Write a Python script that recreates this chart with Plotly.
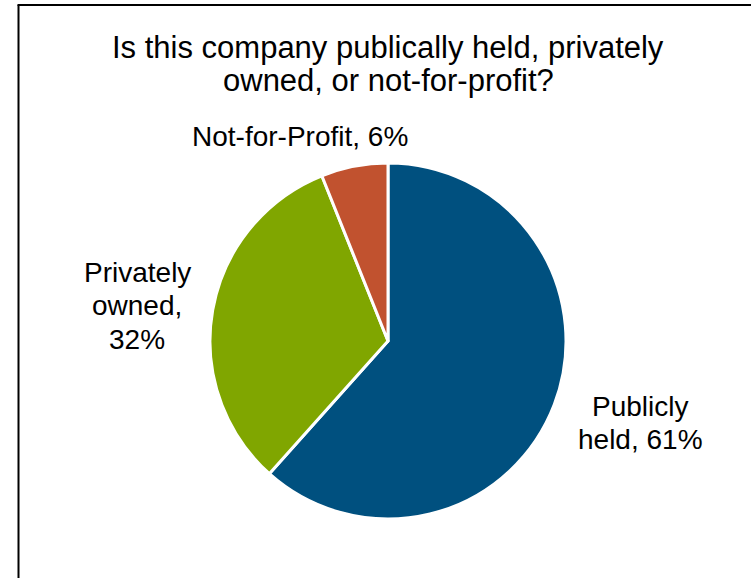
import plotly.graph_objects as go

# data
labels = ['Publicly held', 'Privately owned', 'Not-for-Profit']
values = [61, 32, 6]
colors = ['#00507F', '#80A600', '#C1522F']

title_lines = ['Is this company publically held, privately', 'owned, or not-for-profit?']

# label lines as laid out on the original chart
label_lines = [
    ['Publicly', 'held, {}%'],
    ['Privately', 'owned,', '{}%'],
    ['Not-for-Profit, {}%'],
]
label_pos = [(640, 406), (137, 272), (300, 137)]  # pixel centre of first line
line_step = 33.5

W, H = 751, 578
cx, cy, r = 388, 341, 178

fig = go.Figure()
fig.add_trace(go.Pie(
    labels=labels,
    values=values,
    sort=False,
    direction='clockwise',
    rotation=0,
    textinfo='none',
    hoverinfo='label+percent',
    marker=dict(colors=colors, line=dict(color='white', width=3)),
    domain=dict(x=[(cx - r) / W, (cx + r) / W], y=[(H - cy - r) / H, (H - cy + r) / H]),
    showlegend=False,
))

for lines, v, (px_, py_) in zip(label_lines, values, label_pos):
    for i, ln in enumerate(lines):
        fig.add_annotation(
            text=ln.format(v), x=px_ / W, y=1 - (py_ + i * line_step) / H,
            xref='paper', yref='paper', xanchor='center', yanchor='middle',
            showarrow=False, font=dict(size=28, color='black'),
        )

# title, one annotation per line to keep the tight line spacing
for i, ln in enumerate(title_lines):
    fig.add_annotation(
        text=ln, x=388 / W, y=1 - (47 + i * 33) / H,
        xref='paper', yref='paper', xanchor='center', yanchor='middle',
        showarrow=False, font=dict(size=31, color='black'),
    )

fig.update_layout(
    width=W, height=H,
    margin=dict(l=0, r=0, t=0, b=0),
    paper_bgcolor='white',
    font=dict(family='Liberation Sans, Arial', color='black'),
    shapes=[
        # frame border (left and top edges visible)
        dict(type='line', xref='paper', yref='paper', x0=18.5 / W, x1=18.5 / W,
             y0=-0.1, y1=1 - 5 / H, line=dict(color='black', width=2)),
        dict(type='line', xref='paper', yref='paper', x0=17.5 / W, x1=1.1,
             y0=1 - 5 / H, y1=1 - 5 / H, line=dict(color='black', width=2)),
    ],
)

# drop the default body margin so the figure sits at the window's corner
fig.write_html("out.html", config={'displayModeBar': False},
               post_script="document.body.style.margin='0';")
